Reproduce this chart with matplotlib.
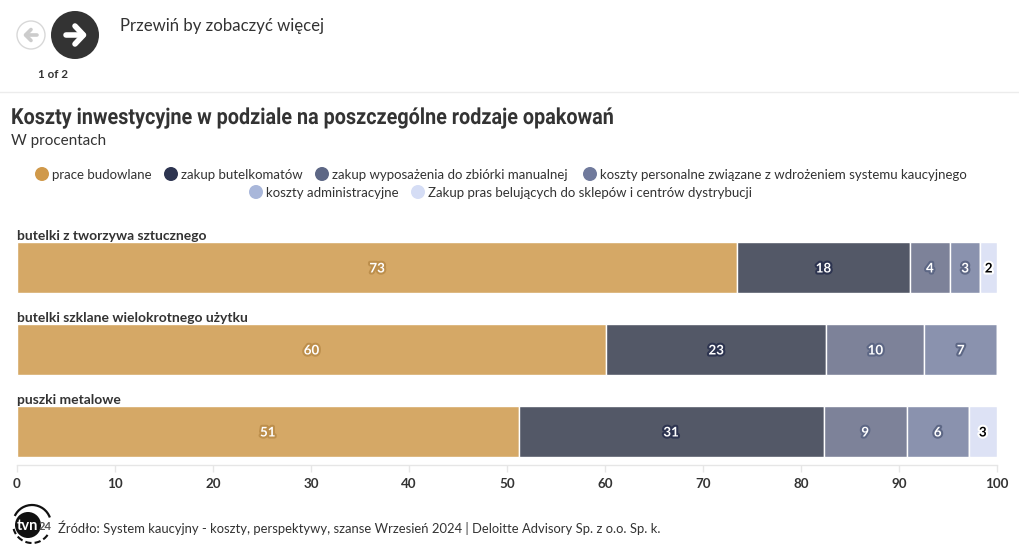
import matplotlib
matplotlib.use('Agg')
import matplotlib.pyplot as plt
import matplotlib.patheffects as pe
from matplotlib.patches import Circle, Arc
from matplotlib.transforms import Affine2D
import numpy as np

W, H = 1020, 557

categories = ['butelki z tworzywa sztucznego', 'butelki szklane wielokrotnego użytku', 'puszki metalowe']
prace_budowlane = [73.5, 60.1, 51.2]
zakup_butelkomatow = [17.6, 22.5, 31.1]
zakup_wyposazenia = [4.1, 10.0, 8.5]
koszty_personalne = [3.1, 7.4, 6.3]
koszty_administracyjne = [0, 0, 0]
zakup_pras = [1.7, 0, 2.9]

label_prace = [73, 60, 51]
label_butelkomaty = [18, 23, 31]
label_wyposazenie = [4, 10, 9]
label_personalne = [3, 7, 6]
label_administracyjne = [None, None, None]
label_prasy = [2, None, 3]

legend_names = ['prace budowlane', 'zakup butelkomatów', 'zakup wyposażenia do zbiórki manualnej',
                'koszty personalne związane z wdrożeniem systemu kaucyjnego',
                'koszty administracyjne', 'Zakup pras belujących do sklepów i centrów dystrybucji']
legend_colors = ['#d0994a', '#2d3450', '#5d6785', '#707a9c', '#a9b7da', '#d5ddf5']
bar_colors = ['#d5a866', '#535867', '#7d8299', '#8a92ae', '#b9c4e0', '#dde2f5']
x_ticks = list(range(0, 101, 10))

plt.rcParams['font.family'] = ['Lato', 'Noto Sans', 'DejaVu Sans']
TXT = '#333333'


# no condensed Roboto installed, so squeeze the glyphs sideways around the text start
class Squeeze(pe.AbstractPathEffect):
    def __init__(self, x0, factor):
        super().__init__()
        self.x0 = x0
        self.factor = factor

    def draw_path(self, renderer, gc, tpath, affine, rgbFace=None):
        sq = Affine2D().translate(-self.x0, 0).scale(self.factor, 1).translate(self.x0, 0)
        renderer.draw_path(gc, tpath, affine + sq, rgbFace)


fig = plt.figure(figsize=(W / 100, H / 100), dpi=100, facecolor='white')

# overlay in pixel coordinates for the page furniture
bg = fig.add_axes([0, 0, 1, 1])
bg.set_xlim(0, W)
bg.set_ylim(H, 0)
bg.axis('off')

bg.add_patch(Circle((31, 35), 14, fc='white', ec='#d8d8d8', lw=1))
bg.plot([37, 26], [35, 35], color='#cccccc', lw=2.6, solid_capstyle='round')
bg.plot([31, 25.5, 31], [29.5, 35, 40.5], color='#cccccc', lw=2.6, solid_capstyle='round', solid_joinstyle='round')
bg.add_patch(Circle((75, 35), 24, fc='#333333', ec='none'))
bg.plot([66, 83], [35, 35], color='white', lw=4, solid_capstyle='round')
bg.plot([75, 83.5, 75], [26, 35, 44], color='white', lw=4, solid_capstyle='round', solid_joinstyle='round')
bg.text(53, 74, '1 of 2', ha='center', va='center', fontsize=8.4, fontweight='bold', color=TXT)
bg.text(120, 26, 'Przewiń by zobaczyć więcej', ha='left', va='center', fontsize=12.1, color=TXT)
bg.plot([0, W], [92, 92], color='#ececec', lw=1)

bg.text(11, 118, 'Koszty inwestycyjne w podziale na poszczególne rodzaje opakowań', ha='left', va='center',
        fontsize=16, fontweight='bold', family='Roboto', color=TXT,
        path_effects=[Squeeze(11, 604 / 678)])
bg.text(11, 141.5, 'W procentach', ha='left', va='center', fontsize=11, color=TXT)

# legend, placed by hand as two centred rows
legend_rows = [(174, [(42, 0), (171, 1), (322, 2), (590, 3)]), (192, [(256, 4), (418, 5)])]
for y, row in legend_rows:
    for x, i in row:
        bg.add_patch(Circle((x, y), 7, fc=legend_colors[i], ec='none'))
        bg.text(x + 10, y + 1, legend_names[i], ha='left', va='center', fontsize=9.58, color=TXT)

# logo
bg.add_patch(Circle((28, 525), 13, fc='#111111', ec='none'))
bg.add_patch(Arc((32, 524), 38, 38, theta1=205, theta2=340, color='#111111', lw=1.6))
bg.add_patch(Arc((32, 524), 38, 38, theta1=35, theta2=165, color='#111111', lw=1.5, ls=(0, (3, 1.5))))
bg.text(27, 526, 'tvn', ha='center', va='center', fontsize=10.5, fontweight='bold', color='white')
bg.text(45, 526, '24', ha='center', va='center', fontsize=8, fontweight='bold', color='#555555')
bg.text(58, 527.5, 'Źródło: System kaucyjny - koszty, perspektywy, szanse Wrzesień 2024 | Deloitte Advisory Sp. z o.o. Sp. k.',
        ha='left', va='center', fontsize=9.39, color=TXT)

# chart
ax = fig.add_axes([17 / W, 1 - 465 / H, 980 / W, (465 - 226.5) / H])
ax.patch.set_alpha(0)
y = np.arange(len(categories))
series = [prace_budowlane, zakup_butelkomatow, zakup_wyposazenia, koszty_personalne, koszty_administracyjne, zakup_pras]
labels = [label_prace, label_butelkomaty, label_wyposazenie, label_personalne, label_administracyjne, label_prasy]
halos = ['#bd8f4c', '#2d3450', '#5d6785', '#5d6785', '#ffffff', '#ffffff']
left = np.zeros(len(categories))
for i, vals in enumerate(series):
    vals = np.array(vals, dtype=float)
    ax.barh(y, vals, left=left, height=0.615, color=bar_colors[i], edgecolor='white', linewidth=1)
    for j, v in enumerate(vals):
        if labels[i][j] is None:
            continue
        tc = 'black' if i == 5 else 'white'
        ax.text(left[j] + v / 2, y[j] + 0.012, str(labels[i][j]), ha='center', va='center', fontsize=9.6,
                fontweight='bold', color=tc,
                path_effects=[pe.withStroke(linewidth=3, foreground=halos[i])])
    left += vals

for j, c in enumerate(categories):
    ax.text(0, y[j] - 0.31, c, ha='left', va='bottom', fontsize=10, fontweight='bold', color=TXT)

ax.set_xlim(0, 100)
ax.set_ylim((465 - 267.5) / 82, -41 / 82)
ax.set_yticks([])
ax.set_xticks(x_ticks)
ax.tick_params(axis='x', length=5, color='#e6e6e6', width=1, pad=4, labelsize=9.6, labelcolor=TXT)
for t in ax.get_xticklabels():
    t.set_fontweight('bold')
for s in ['top', 'left', 'right']:
    ax.spines[s].set_visible(False)
ax.spines['bottom'].set_color('#e6e6e6')
ax.spines['bottom'].set_linewidth(1)

fig.savefig('out.png', dpi=100)
